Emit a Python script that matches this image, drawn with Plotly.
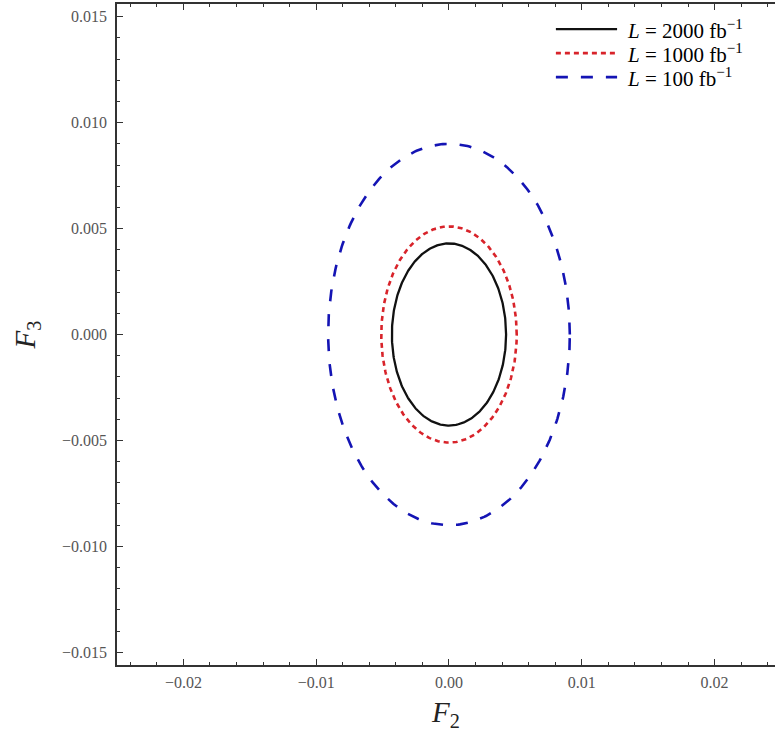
import numpy as np
import plotly.graph_objects as go

# Exclusion contours in the (F2, F3) plane for three integrated luminosities
luminosity = [2000, 1000, 100]          # fb^-1
radius_f2 = [0.0043, 0.0051, 0.0091]    # half-width along F2
radius_f3 = [0.0043, 0.0051, 0.0090]    # half-height along F3
line_colors = ["#111111", "#d8232a", "#1414b4"]
line_dashes = ["solid", "5px,4px", "12px,13px"]
line_widths = [2.3, 2.6, 2.6]

x_tickvals = [-0.02, -0.01, 0.0, 0.01, 0.02]
x_ticktext = ["\u22120.02", "\u22120.01", "0.00", "0.01", "0.02"]
y_tickvals = [-0.015, -0.010, -0.005, 0.0, 0.005, 0.010, 0.015]
y_ticktext = ["\u22120.015", "\u22120.010", "\u22120.005", "0.000", "0.005", "0.010", "0.015"]

theta = np.linspace(0, 2 * np.pi, 400)

fig = go.Figure()
for lum, rx, ry, col, dash, w in zip(luminosity, radius_f2, radius_f3,
                                     line_colors, line_dashes, line_widths):
    fig.add_trace(go.Scatter(
        x=rx * np.cos(theta), y=ry * np.sin(theta),
        mode="lines",
        line=dict(color=col, dash=dash, width=w),
        name=f"<i>L</i> = {lum} fb<sup>\u22121</sup>",
        showlegend=False,
    ))

serif = "Liberation Serif, Times New Roman, serif"

# Legend drawn as a key box in the upper right corner (paper coordinates)
key_x0, key_x1, key_text_x = 0.667, 0.760, 0.772
key_y_top, key_row_step = 0.962, 0.0363
for i, (lum, col, dash, w) in enumerate(zip(luminosity, line_colors,
                                             line_dashes, line_widths)):
    ky = key_y_top - i * key_row_step
    fig.add_shape(type="line", xref="paper", yref="paper",
                  x0=key_x0, x1=key_x1, y0=ky, y1=ky,
                  line=dict(color=col, dash=dash, width=w))
    fig.add_annotation(xref="paper", yref="paper", x=key_text_x, y=ky,
                       xanchor="left", yanchor="middle", showarrow=False,
                       text=(f"<i>L</i> = {lum} fb<sup>"
                             "<span style='font-size:15px'>\u22121</span></sup>"),
                       font=dict(family=serif, size=21, color="black"))

tick_font = dict(family=serif, size=16, color="#555555")
axis_col = "#333333"

fig.update_layout(
    width=775, height=740,
    margin=dict(l=117, r=0, t=4, b=75),
    paper_bgcolor="white", plot_bgcolor="white",
    showlegend=False,
    xaxis=dict(
        range=[-0.025, 0.02455], showgrid=False, zeroline=False,
        showline=True, linecolor=axis_col, linewidth=1.5, mirror="ticks",
        ticks="inside", ticklen=6, tickcolor=axis_col, tickwidth=1.2,
        tickvals=x_tickvals, ticktext=x_ticktext, tickfont=tick_font,
        ticklabelstandoff=2,
        minor=dict(dtick=0.002, tick0=0, ticks="inside", ticklen=3.5,
                   tickcolor=axis_col, tickwidth=1, showgrid=False),
        title=dict(text="<i>F</i><sub>2</sub>", standoff=12,
                   font=dict(family=serif, size=29, color="#222222")),
    ),
    yaxis=dict(
        range=[-0.0156, 0.0156], showgrid=False, zeroline=False,
        showline=True, linecolor=axis_col, linewidth=1.5,
        ticks="inside", ticklen=6, tickcolor=axis_col, tickwidth=1.2,
        tickvals=y_tickvals, ticktext=y_ticktext, tickfont=tick_font,
        ticklabelstandoff=5,
        minor=dict(dtick=0.001, tick0=0, ticks="inside", ticklen=3.5,
                   tickcolor=axis_col, tickwidth=1, showgrid=False),
        title=dict(text="<i>F</i><sub>3</sub>", standoff=18,
                   font=dict(family=serif, size=29, color="#222222")),
    ),
    yaxis2=dict(
        overlaying="y", side="right", range=[-0.0156, 0.0156],
        showgrid=False, zeroline=False, showline=False,
        ticks="inside", ticklen=6, tickcolor=axis_col, tickwidth=1.2,
        tickvals=y_tickvals, showticklabels=False,
        minor=dict(dtick=0.001, tick0=0, ticks="inside", ticklen=3.5,
                   tickcolor=axis_col, tickwidth=1, showgrid=False),
    ),
)

fig.write_html("out.html")
